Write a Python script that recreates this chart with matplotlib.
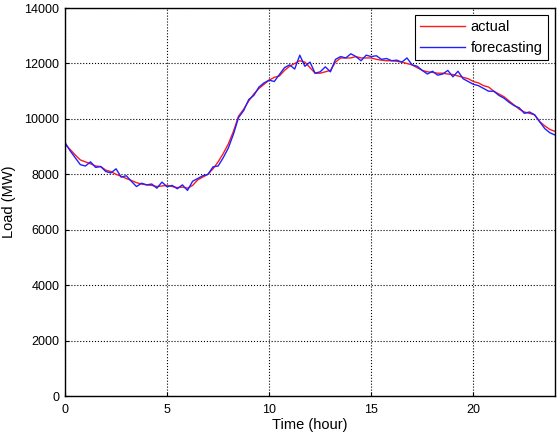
import numpy as np
import matplotlib
matplotlib.use("Agg")
import matplotlib.pyplot as plt

plt.rcParams['font.family'] = ['Liberation Sans', 'DejaVu Sans']

# load every 15 minutes
time_h = np.arange(0, 24.01, 0.25)
actual = [9080, 8900, 8700, 8520, 8450, 8380, 8300, 8280, 8150, 8100, 8000, 7930,
          7850, 7780, 7700, 7650, 7620, 7600, 7560, 7580, 7600, 7560, 7520, 7540,
          7500, 7600, 7800, 7900, 8000, 8200, 8450, 8750, 9100, 9550, 10100, 10350,
          10650, 10900, 11100, 11250, 11400, 11500, 11550, 11750, 11900, 12000, 12100, 12050,
          11850, 11650, 11650, 11700, 11750, 12050, 12200, 12200, 12200, 12250, 12200, 12200,
          12200, 12150, 12120, 12100, 12100, 12080, 12050, 12000, 11950, 11850, 11750, 11700,
          11680, 11650, 11650, 11620, 11600, 11550, 11500, 11450, 11350, 11300, 11200, 11150,
          11000, 10900, 10800, 10650, 10500, 10350, 10250, 10200, 10150, 9900, 9750, 9620,
          9550]
forecast = [9150, 8850, 8600, 8350, 8300, 8450, 8250, 8280, 8100, 8050, 8200, 7900,
            7950, 7750, 7560, 7680, 7620, 7650, 7500, 7720, 7550, 7600, 7480, 7620,
            7420, 7750, 7850, 7950, 8000, 8270, 8300, 8600, 8950, 9450, 10050, 10300,
            10700, 10850, 11150, 11300, 11400, 11350, 11600, 11850, 11950, 11800, 12300, 11900,
            12050, 11650, 11700, 11880, 11700, 12150, 12250, 12200, 12350, 12250, 12100, 12300,
            12250, 12280, 12150, 12180, 12100, 12120, 12050, 12200, 11950, 11900, 11750, 11620,
            11720, 11580, 11620, 11750, 11520, 11720, 11450, 11350, 11250, 11200, 11100, 11000,
            11000, 10850, 10750, 10600, 10480, 10400, 10200, 10250, 10150, 9900, 9650, 9500,
            9420]

fig = plt.figure(figsize=(5.57, 4.32), dpi=100)
ax = fig.add_axes([0.1167, 0.0833, 0.8797, 0.898])

ax.plot(time_h, actual, color='#ff1a1a', lw=1.0, label='actual')
ax.plot(time_h, forecast, color='#2020ff', lw=1.0, label='forecasting')

ax.set_xlim(0, 24)
ax.set_ylim(0, 14000)
ax.set_xticks([0, 5, 10, 15, 20])
ax.set_yticks(np.arange(0, 14001, 2000))
ax.grid(True, color='black', linestyle=':', linewidth=0.8)
ax.tick_params(direction='in', length=3, labelsize=9, colors='black')
ax.tick_params(axis='x', pad=6)
ax.tick_params(axis='y', pad=4)
for s in ax.spines.values():
    s.set_linewidth(1.0)

ax.set_xlabel('Time (hour)', fontsize=10.5, labelpad=1)
ax.set_ylabel('Load (MW)', fontsize=10.5, labelpad=6)

leg = ax.legend(loc='upper right', fontsize=10.5, fancybox=False, framealpha=1,
                edgecolor='black', borderaxespad=0.5, handlelength=3.1,
                handletextpad=0.35, labelspacing=0.45, borderpad=0.35)
leg.get_frame().set_linewidth(0.8)

fig.savefig('out.png', dpi=100)
